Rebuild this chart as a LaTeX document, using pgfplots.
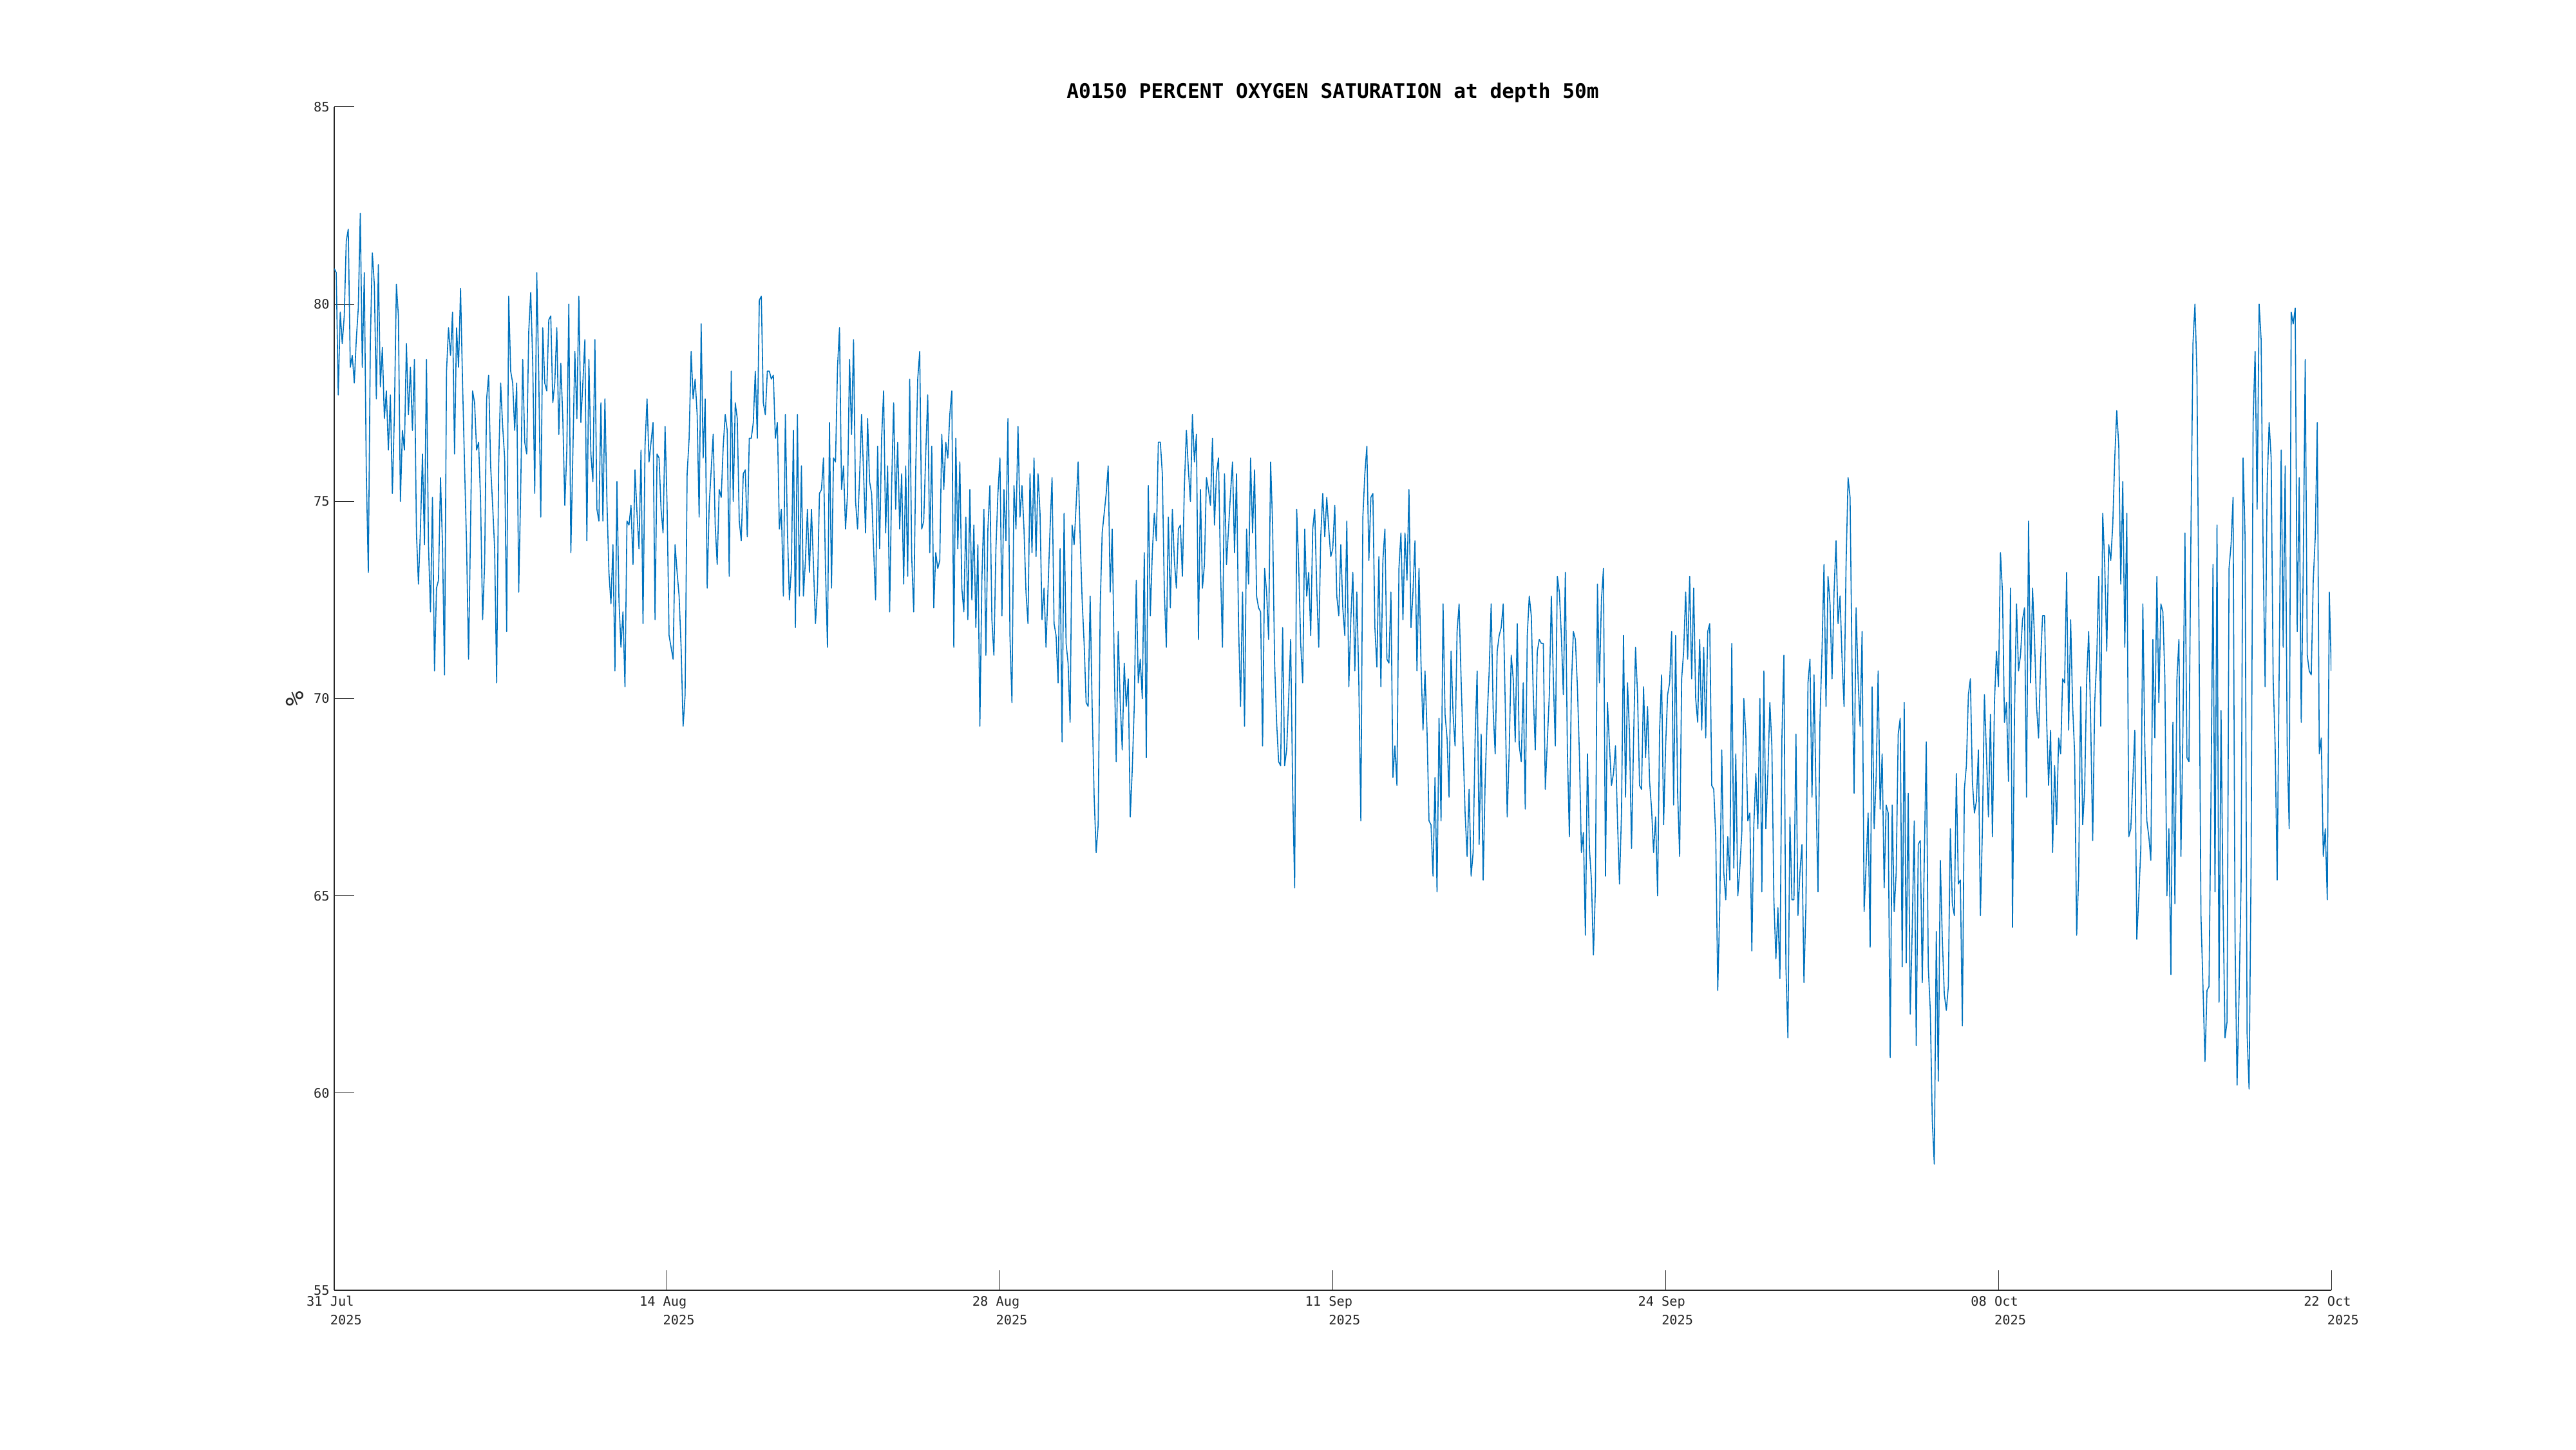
\documentclass[border=0pt]{standalone}
\usepackage{fontspec}
\setmainfont{DejaVu Sans Mono}
\setmonofont{DejaVu Sans Mono}
\usepackage{pgfplots}
\pgfplotsset{compat=1.18}
\definecolor{mblue}{HTML}{0072BD}
\definecolor{mgray}{HTML}{262626}
\begin{document}
\begin{tikzpicture}
\path[use as bounding box] (-259.5pt,-123.5pt) rectangle (1740.5pt,1001.5pt);
\begin{axis}[
  at={(0,0)}, anchor=south west,
  scale only axis, width=1550.5pt, height=918.5pt,
  xmin=0, xmax=1992, ymin=55, ymax=85,
  axis x line*=bottom, axis y line*=left,
  axis line style={draw=mgray, line width=0.6pt, -},
  xtick={0,332,664,996,1328,1660,1992},
  xticklabels={{31 Jul\\\phantom{000}2025},{14 Aug\\\phantom{000}2025},{28 Aug\\\phantom{000}2025},{11 Sep\\\phantom{000}2025},{24 Sep\\\phantom{000}2025},{08 Oct\\\phantom{000}2025},{22 Oct\\\phantom{000}2025}},
  ytick={55,60,65,70,75,80,85},
  /pgf/number format/assume math mode=true,
  tick align=inside,
  major tick length=15.5pt,
  tick style={draw=mgray, line width=0.5pt},
  xticklabel style={font=\fontsize{10.15}{14.5}\selectfont, text=mgray, align=left, anchor=north, inner sep=0pt, yshift=-4.5pt},
  yticklabel style={font=\fontsize{10.15}{12}\selectfont, text=mgray, anchor=east, inner sep=0pt, xshift=-3.5pt},
  title={A0150 PERCENT OXYGEN SATURATION at depth 50m},
  title style={font=\bfseries\fontsize{15.6}{18}\selectfont, text=black, at={([yshift=0.6pt]axis description cs:0.5,1)}, anchor=base, inner sep=0pt},
  ylabel={\%},
  ylabel style={font=\fontsize{19.5}{22}\selectfont, text=mgray, at={([xshift=-30.5pt]axis description cs:0,0.5)}, anchor=center, inner sep=0pt},
]
\addplot[mblue, line width=0.8pt, mark=none, line join=round] coordinates {
(0,80.9)(2,80.8)(4,77.7)(6,79.8)(8,79.0)(10,79.7)(12,81.6)(14,81.9)(16,78.4)(18,78.7)
(20,78.0)(22,79.1)(24,79.9)(26,82.3)(28,78.4)(30,80.8)(32,75.7)(34,73.2)(36,79.0)(38,81.3)
(40,80.5)(42,77.6)(44,81.0)(46,77.9)(48,78.9)(50,77.1)(52,77.8)(54,76.3)(56,77.7)(58,75.2)
(60,77.2)(62,80.5)(64,79.7)(66,75.0)(68,76.8)(70,76.3)(72,79.0)(74,77.2)(76,78.4)(78,76.8)
(80,78.6)(82,74.2)(84,72.9)(86,74.3)(88,76.2)(90,73.9)(92,78.6)(94,73.9)(96,72.2)(98,75.1)
(100,70.7)(102,72.8)(104,73.0)(106,75.6)(108,73.9)(110,70.6)(112,78.3)(114,79.4)(116,78.7)(118,79.8)
(120,76.2)(122,79.4)(124,78.4)(126,80.4)(128,78.0)(130,75.9)(132,73.9)(134,71.0)(136,74.4)(138,77.8)
(140,77.5)(142,76.3)(144,76.5)(146,75.0)(148,72.0)(150,73.4)(152,77.6)(154,78.2)(156,75.9)(158,74.9)
(160,73.8)(162,70.4)(164,75.9)(166,78.0)(168,76.9)(170,76.1)(172,71.7)(174,80.2)(176,78.3)(178,78.0)
(180,76.8)(182,78.0)(184,72.7)(186,75.3)(188,78.6)(190,76.5)(192,76.2)(194,79.3)(196,80.3)(198,78.5)
(200,75.2)(202,80.8)(204,78.2)(206,74.6)(208,79.4)(210,78.0)(212,77.8)(214,79.6)(216,79.7)(218,77.5)
(220,78.0)(222,79.4)(224,76.7)(226,78.5)(228,77.1)(230,74.9)(232,76.3)(234,80.0)(236,73.7)(238,76.2)
(240,78.8)(242,77.1)(244,80.2)(246,77.0)(248,78.0)(250,79.1)(252,74.0)(254,78.6)(256,76.2)(258,75.5)
(260,79.1)(262,74.8)(264,74.5)(266,77.5)(268,74.5)(270,77.6)(272,75.0)(274,73.2)(276,72.4)(278,73.9)
(280,70.7)(282,75.5)(284,72.5)(286,71.3)(288,72.2)(290,70.3)(292,74.5)(294,74.4)(296,74.9)(298,73.4)
(300,75.8)(302,74.7)(304,73.8)(306,76.3)(308,71.9)(310,76.4)(312,77.6)(314,76.0)(316,76.5)(318,77.0)
(320,72.0)(322,76.2)(324,76.1)(326,74.8)(328,74.2)(330,76.9)(332,74.9)(334,71.6)(336,71.3)(338,71.0)
(340,73.9)(342,73.2)(344,72.6)(346,71.3)(348,69.3)(350,70.1)(352,75.7)(354,76.6)(356,78.8)(358,77.6)
(360,78.1)(362,77.2)(364,74.6)(366,79.5)(368,76.1)(370,77.6)(372,72.8)(374,74.9)(376,75.8)(378,76.7)
(380,74.4)(382,73.4)(384,75.3)(386,75.1)(388,76.4)(390,77.2)(392,76.8)(394,73.1)(396,78.3)(398,75.0)
(400,77.5)(402,77.1)(404,74.5)(406,74.0)(408,75.7)(410,75.8)(412,74.1)(414,76.6)(416,76.6)(418,77.0)
(420,78.3)(422,76.6)(424,80.1)(426,80.2)(428,77.5)(430,77.2)(432,78.3)(434,78.3)(436,78.1)(438,78.2)
(440,76.6)(442,77.0)(444,74.3)(446,74.8)(448,72.6)(450,77.2)(452,74.3)(454,72.5)(456,73.3)(458,76.8)
(460,71.8)(462,77.2)(464,72.6)(466,75.9)(468,72.6)(470,73.5)(472,74.8)(474,73.2)(476,74.8)(478,73.4)
(480,71.9)(482,72.8)(484,75.2)(486,75.3)(488,76.1)(490,73.3)(492,71.3)(494,77.0)(496,72.8)(498,76.1)
(500,76.0)
(502,78.4)(504,79.4)(506,75.3)(508,75.9)(510,74.3)(512,75.2)(514,78.6)(516,76.7)(518,79.1)(520,75.0)
(522,74.3)(524,75.6)(526,77.2)(528,75.7)(530,74.2)(532,77.1)(534,75.5)(536,75.2)(538,73.8)(540,72.5)
(542,76.4)(544,73.8)(546,76.6)(548,77.8)(550,74.2)(552,75.9)(554,72.2)(556,75.4)(558,77.5)(560,74.8)
(562,76.5)(564,74.3)(566,75.7)(568,72.9)(570,75.9)(572,73.1)(574,78.1)(576,73.6)(578,72.2)(580,75.8)
(582,78.1)(584,78.8)(586,74.3)(588,74.5)(590,76.2)(592,77.7)(594,73.7)(596,76.4)(598,72.3)(600,73.7)
(602,73.3)(604,73.5)(606,76.7)(608,75.3)(610,76.5)(612,76.1)(614,77.2)(616,77.8)(618,71.3)(620,76.6)
(622,73.8)(624,76.0)(626,72.8)(628,72.2)(630,74.6)(632,72.0)(634,75.3)(636,72.5)(638,74.4)(640,71.8)
(642,73.9)(644,69.3)(646,73.0)(648,74.8)(650,71.1)(652,74.3)(654,75.4)(656,72.0)(658,71.1)(660,73.8)
(662,75.2)(664,76.1)(666,72.1)(668,75.3)(670,74.0)(672,77.1)(674,71.6)(676,69.9)(678,75.4)(680,74.3)
(682,76.9)(684,74.6)(686,75.4)(688,74.3)(690,72.7)(692,71.9)(694,75.7)(696,73.7)(698,76.1)(700,73.6)
(702,75.7)(704,74.7)(706,72.0)(708,72.8)(710,71.3)(712,72.8)(714,74.3)(716,75.6)(718,71.9)(720,71.6)
(722,70.4)(724,73.8)(726,68.9)(728,74.7)(730,71.4)(732,70.9)(734,69.4)(736,74.4)(738,73.9)(740,74.9)
(742,76.0)(744,74.1)(746,72.5)(748,71.4)(750,69.9)(752,69.8)(754,72.6)(756,69.8)(758,67.5)(760,66.1)
(762,66.8)(764,72.3)(766,74.2)(768,74.7)(770,75.2)(772,75.9)(774,72.7)(776,74.3)(778,70.9)(780,68.4)
(782,71.7)(784,69.9)(786,68.7)(788,70.9)(790,69.8)(792,70.5)(794,67.0)(796,68.2)(798,69.8)(800,73.0)
(802,70.4)(804,71.0)(806,70.0)(808,73.7)(810,68.5)(812,75.4)(814,72.1)(816,73.7)(818,74.7)(820,74.0)
(822,76.5)(824,76.5)(826,75.7)(828,72.7)(830,71.3)(832,74.6)(834,72.3)(836,74.8)(838,73.5)(840,72.8)
(842,74.3)(844,74.4)(846,73.1)(848,75.4)(850,76.8)(852,75.8)(854,75.0)(856,77.2)(858,76.0)(860,76.7)
(862,71.5)(864,75.3)(866,72.8)(868,73.4)(870,75.6)(872,75.3)(874,74.9)(876,76.6)(878,74.4)(880,75.7)
(882,76.1)(884,73.3)(886,71.3)(888,75.7)(890,73.4)(892,74.3)(894,75.2)(896,76.0)(898,73.7)(900,75.7)
(902,71.9)(904,69.8)(906,72.7)(908,69.3)(910,74.3)(912,72.9)(914,76.1)(916,74.2)(918,75.8)(920,72.6)
(922,72.3)(924,72.2)(926,68.8)(928,73.3)(930,72.7)(932,71.5)(934,76.0)(936,74.4)(938,70.9)(940,69.4)
(942,68.4)(944,68.3)(946,71.8)(948,68.3)(950,68.7)(952,70.0)(954,71.5)(956,67.7)(958,65.2)(960,74.8)
(962,73.4)(964,71.4)(966,70.4)(968,74.3)(970,72.6)(972,73.2)(974,71.6)(976,74.3)(978,74.8)(980,72.8)
(982,71.3)(984,74.1)(986,75.2)(988,74.1)(990,75.1)(992,74.3)(994,73.6)(996,73.8)(998,74.9)(1000,72.6)
(1002,72.1)(1004,73.9)(1006,72.3)(1008,71.6)(1010,74.5)(1012,70.3)(1014,72.0)
(1016,73.2)(1018,70.7)(1020,72.7)(1022,70.4)(1024,66.9)(1026,74.6)(1028,75.7)(1030,76.4)(1032,73.5)(1034,75.1)
(1036,75.2)(1038,71.8)(1040,70.8)(1042,73.6)(1044,70.3)(1046,73.5)(1048,74.3)(1050,71.0)(1052,70.9)(1054,72.7)
(1056,68.0)(1058,68.8)(1060,67.8)(1062,73.3)(1064,74.2)(1066,72.0)(1068,74.2)(1070,73.0)(1072,75.3)(1074,71.8)
(1076,72.7)(1078,74.0)(1080,70.7)(1082,73.3)(1084,70.9)(1086,69.2)(1088,70.7)(1090,69.2)(1092,66.9)(1094,66.8)
(1096,65.5)(1098,68.0)(1100,65.1)(1102,69.5)(1104,66.9)(1106,72.4)(1108,69.6)(1110,69.0)(1112,67.5)(1114,71.2)
(1116,69.6)(1118,68.8)(1120,71.7)(1122,72.4)(1124,70.5)(1126,68.8)(1128,67.1)(1130,66.0)(1132,67.7)(1134,65.5)
(1136,66.1)(1138,69.0)(1140,70.7)(1142,66.3)(1144,69.1)(1146,65.4)(1148,67.9)(1150,69.5)(1152,70.7)(1154,72.4)
(1156,69.7)(1158,68.6)(1160,71.2)(1162,71.6)(1164,71.8)(1166,72.4)(1168,69.9)(1170,67.0)(1172,68.7)(1174,71.1)
(1176,70.5)(1178,68.9)(1180,71.9)(1182,68.8)(1184,68.4)(1186,70.4)(1188,67.2)(1190,71.6)(1192,72.6)(1194,72.1)
(1196,70.1)(1198,68.7)(1200,71.2)(1202,71.5)(1204,71.4)(1206,71.4)(1208,67.7)(1210,68.9)(1212,70.1)(1214,72.6)
(1216,70.5)(1218,68.8)(1220,73.1)(1222,72.7)(1224,71.6)(1226,70.1)(1228,73.2)(1230,68.7)(1232,66.5)(1234,70.3)
(1236,71.7)(1238,71.5)(1240,70.3)(1242,68.6)(1244,66.1)(1246,66.6)(1248,64.0)(1250,68.6)(1252,66.2)(1254,65.4)
(1256,63.5)(1258,65.2)(1260,72.9)(1262,70.4)(1264,72.5)(1266,73.3)(1268,65.5)(1270,69.9)(1272,68.8)(1274,67.8)
(1276,68.1)(1278,68.8)(1280,66.9)(1282,65.3)(1284,67.1)(1286,71.6)(1288,67.5)(1290,70.4)(1292,69.1)(1294,66.2)
(1296,68.9)(1298,71.3)(1300,70.1)(1302,67.8)(1304,67.7)(1306,70.3)(1308,68.5)(1310,69.8)(1312,67.9)(1314,67.2)
(1316,66.1)(1318,67.0)(1320,65.0)(1322,69.2)(1324,70.6)(1326,66.8)(1328,68.8)(1330,70.1)(1332,70.4)(1334,71.7)
(1336,67.3)(1338,71.6)(1340,67.6)(1342,66.0)(1344,70.5)(1346,71.2)(1348,72.7)(1350,71.0)(1352,73.1)(1354,70.5)
(1356,72.8)(1358,70.0)(1360,69.4)(1362,71.5)(1364,69.2)(1366,71.3)(1368,69.0)(1370,71.7)(1372,71.9)(1374,67.8)
(1376,67.7)(1378,66.5)(1380,62.6)(1382,64.7)(1384,68.7)(1386,65.6)(1388,64.9)(1390,66.5)(1392,65.4)(1394,71.4)
(1396,65.7)(1398,68.6)(1400,65.0)(1402,65.7)(1404,66.6)(1406,70.0)(1408,69.1)(1410,66.9)(1412,67.1)(1414,63.6)
(1416,66.8)(1418,68.1)(1420,66.7)(1422,70.0)(1424,65.1)(1426,70.7)(1428,66.7)(1430,68.1)(1432,69.9)(1434,68.8)
(1436,64.9)(1438,63.4)(1440,64.7)(1442,62.9)(1444,69.0)(1446,71.1)(1448,63.2)(1450,61.4)(1452,67.0)(1454,64.9)
(1456,64.9)(1458,69.1)(1460,64.5)(1462,65.6)(1464,66.3)(1466,62.8)(1468,64.8)(1470,70.4)(1472,71.0)(1474,67.5)
(1476,70.6)(1478,67.6)(1480,65.1)(1482,69.5)(1484,71.2)(1486,73.4)(1488,69.8)(1490,73.1)(1492,72.4)(1494,70.5)
(1496,72.7)(1498,74.0)(1500,71.9)(1502,72.6)(1504,71.0)(1506,69.8)(1508,73.4)(1510,75.6)(1512,75.1)(1514,70.7)
(1516,67.6)(1518,72.3)(1520,70.5)(1522,69.3)(1524,71.7)(1526,64.6)(1528,65.8)
(1530,67.1)(1532,63.7)(1534,70.3)(1536,66.7)(1538,68.0)(1540,70.7)(1542,67.2)(1544,68.6)(1546,65.2)(1548,67.3)
(1550,67.1)(1552,60.9)(1554,67.3)(1556,64.6)(1558,65.6)(1560,69.1)(1562,69.5)(1564,63.2)(1566,69.9)(1568,63.3)
(1570,67.6)(1572,62.0)(1574,64.2)(1576,66.9)(1578,61.2)(1580,66.3)(1582,66.4)(1584,62.8)(1586,65.9)(1588,68.9)
(1590,63.2)(1592,62.1)(1594,59.3)(1596,58.2)(1598,64.1)(1600,60.3)(1602,65.9)(1604,63.9)(1606,62.5)(1608,62.1)
(1610,62.7)(1612,66.7)(1614,64.8)(1616,64.5)(1618,68.1)(1620,65.3)(1622,65.4)(1624,61.7)(1626,67.7)(1628,68.3)
(1630,70.1)(1632,70.5)(1634,67.9)(1636,67.1)(1638,67.4)(1640,68.7)(1642,64.5)(1644,66.7)(1646,70.1)(1648,68.6)
(1650,67.0)(1652,69.6)(1654,66.5)(1656,69.9)(1658,71.2)(1660,70.3)(1662,73.7)(1664,72.7)(1666,69.4)(1668,69.9)
(1670,67.9)(1672,72.8)(1674,64.2)(1676,69.6)(1678,72.4)(1680,70.7)(1682,71.1)(1684,72.0)(1686,72.3)(1688,67.5)
(1690,74.5)(1692,70.4)(1694,72.8)(1696,71.5)(1698,69.8)(1700,69.0)(1702,70.9)(1704,72.1)(1706,72.1)(1708,69.5)
(1710,67.8)(1712,69.2)(1714,66.1)(1716,68.3)(1718,66.8)(1720,69.0)(1722,68.6)(1724,70.5)(1726,70.4)(1728,73.2)
(1730,69.2)(1732,72.0)(1734,69.8)(1736,68.6)(1738,64.0)(1740,65.5)(1742,70.3)(1744,66.8)(1746,67.7)(1748,70.5)
(1750,71.7)(1752,69.4)(1754,66.4)(1756,69.9)(1758,71.0)(1760,73.1)(1762,69.3)(1764,74.7)(1766,73.4)(1768,71.2)
(1770,73.9)(1772,73.5)(1774,74.4)(1776,76.1)(1778,77.3)(1780,76.4)(1782,72.9)(1784,75.5)(1786,71.3)(1788,74.7)
(1790,66.5)(1792,66.7)(1794,67.9)(1796,69.2)(1798,63.9)(1800,65.0)(1802,66.2)(1804,72.4)(1806,68.8)(1808,66.9)
(1810,66.5)(1812,65.9)(1814,71.5)(1816,69.0)(1818,73.1)(1820,69.9)(1822,72.4)(1824,72.2)(1826,70.5)(1828,65.0)
(1830,66.7)(1832,63.0)(1834,69.4)(1836,64.8)(1838,70.5)(1840,71.5)(1842,66.0)(1844,69.2)(1846,74.2)(1848,68.5)
(1850,68.4)(1852,74.2)(1854,79.0)(1856,80.0)(1858,78.2)(1860,71.8)(1862,64.5)(1864,62.7)(1866,60.8)(1868,62.6)
(1870,62.7)(1872,67.5)(1874,73.4)(1876,65.1)(1878,74.4)(1880,62.3)(1882,69.7)(1884,64.8)(1886,61.4)(1888,61.8)
(1890,73.3)(1892,73.9)(1894,75.1)(1896,63.9)(1898,60.2)(1900,62.5)(1902,65.3)(1904,76.1)(1906,74.1)(1908,61.5)
(1910,60.1)(1912,65.8)(1914,77.0)(1916,78.8)(1918,74.8)(1920,80.0)(1922,79.1)(1924,73.7)(1926,70.3)(1928,75.4)
(1930,77.0)(1932,76.1)(1934,70.5)(1936,68.8)(1938,65.4)(1940,70.7)(1942,76.3)(1944,71.3)(1946,75.9)(1948,68.8)
(1950,66.7)(1952,79.8)(1954,79.5)(1956,79.9)(1958,71.7)(1960,75.6)(1962,69.4)(1964,73.3)(1966,78.6)(1968,71.1)
(1970,70.7)(1972,70.6)(1974,73.0)(1976,74.1)(1978,77.0)(1980,68.6)(1982,69.0)(1984,66.0)(1986,66.7)(1988,64.9)
(1990,72.7)(1992,70.7)
};
\end{axis}
\end{tikzpicture}
\end{document}
